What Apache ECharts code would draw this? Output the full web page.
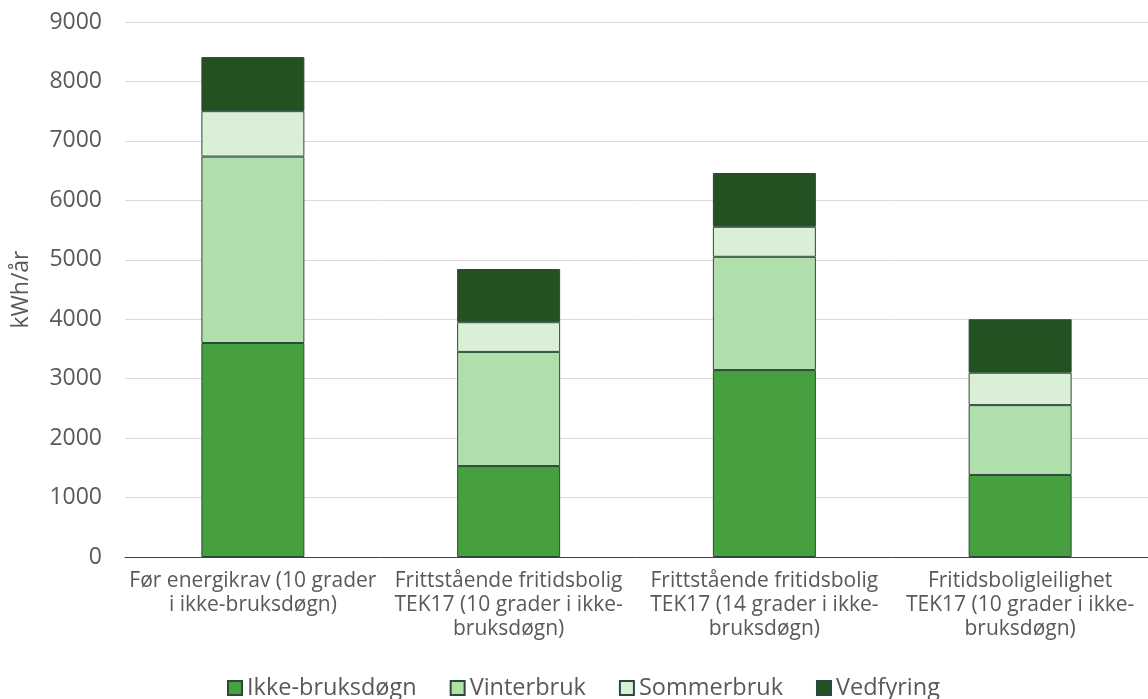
<!DOCTYPE html>
<html><head><meta charset="utf-8">
<script src="https://cdn.jsdelivr.net/npm/echarts@6/dist/echarts.min.js"></script>
<style>html,body{margin:0;padding:0;background:#fff}#c{width:1148px;height:699px}</style>
</head><body><div id="c"></div>
<script>
const categories = [
  "Før energikrav (10 grader\ni ikke-bruksdøgn)",
  "Frittstående fritidsbolig\nTEK17 (10 grader i ikke-\nbruksdøgn)",
  "Frittstående fritidsbolig\nTEK17 (14 grader i ikke-\nbruksdøgn)",
  "Fritidsboligleilighet\nTEK17 (10 grader i ikke-\nbruksdøgn)"
];
const seriesNames = ["Ikke-bruksdøgn", "Vinterbruk", "Sommerbruk", "Vedfyring"];
const ikkeBruksdogn = [3600, 1530, 3145, 1380];
const vinterbruk = [3136, 1920, 1905, 1175];
const sommerbruk = [764, 500, 505, 545];
const vedfyring = [910, 895, 905, 900];
const yTicks = [0, 1000, 2000, 3000, 4000, 5000, 6000, 7000, 8000, 9000];

const colors = ["#46a040", "#b1dfac", "#d9efd6", "#245121"];
const values = [ikkeBruksdogn, vinterbruk, sommerbruk, vedfyring];
const font = "'Open Sans', sans-serif";

const chart = echarts.init(document.getElementById('c'), null, {renderer: 'canvas'});
chart.setOption({
  animation: false,
  textStyle: {fontFamily: font},
  grid: {left: 125, right: -5, top: 22, bottom: 142, containLabel: false},
  legend: {
    top: 676, left: 227, padding: 0,
    itemWidth: 14, itemHeight: 14, itemGap: 33,
    icon: 'rect',
    textStyle: {fontSize: 23.5, color: '#595959', fontFamily: font},
    data: seriesNames
  },
  xAxis: {
    type: 'category', data: categories,
    axisLine: {lineStyle: {color: '#2b4a3b', width: 1}},
    axisTick: {show: false},
    axisLabel: {fontSize: 21, color: '#595959', lineHeight: 24, margin: 12, interval: 0, fontFamily: font}
  },
  yAxis: {
    type: 'value', min: 0, max: 9000, interval: 1000,
    name: 'kWh/år', nameLocation: 'middle', nameGap: 92, nameRotate: 90,
    nameTextStyle: {fontSize: 23, color: '#595959', fontFamily: font},
    axisLine: {show: false}, axisTick: {show: false},
    axisLabel: {fontSize: 23, color: '#595959', margin: 23, fontFamily: font,
      formatter: v => yTicks.includes(v) ? String(v) : ''},
    splitLine: {lineStyle: {color: '#d9d9d9', width: 1}}
  },
  series: seriesNames.map((n, i) => ({
    name: n, type: 'bar', stack: 'total', data: values[i],
    barWidth: 103,
    itemStyle: {color: colors[i], borderColor: '#2b4a3b', borderWidth: 1}
  }))
});
</script></body></html>
